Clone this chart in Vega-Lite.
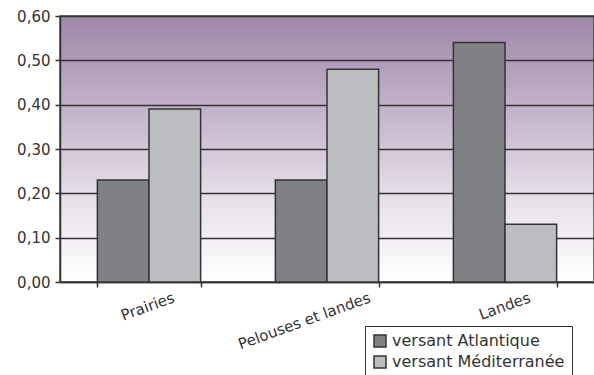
{
  "$schema": "https://vega.github.io/schema/vega-lite/v6.json",
  "width": 534,
  "height": 266,
  "autosize": "none",
  "padding": {"left": 60, "top": 16, "right": 0, "bottom": 93},
  "background": "white",
  "config": {
    "font": "DejaVu Sans",
    "view": {
      "stroke": "#444",
      "strokeWidth": 1.5,
      "fill": {"gradient": "linear", "x1": 0, "y1": 0, "x2": 0, "y2": 1, "stops": [{"offset": 0, "color": "#9F87A8"}, {"offset": 0.35, "color": "#C3B3CA"}, {"offset": 0.7, "color": "#E8E1EB"}, {"offset": 1, "color": "#FFFFFF"}]}
    }
  },
  "data": {
    "values": [
      {"type": "Prairies", "versant": "versant Atlantique", "value": 0.23},
      {"type": "Prairies", "versant": "versant Méditerranée", "value": 0.39},
      {"type": "Pelouses et landes", "versant": "versant Atlantique", "value": 0.23},
      {"type": "Pelouses et landes", "versant": "versant Méditerranée", "value": 0.48},
      {"type": "Landes", "versant": "versant Atlantique", "value": 0.54},
      {"type": "Landes", "versant": "versant Méditerranée", "value": 0.13}
    ]
  },
  "mark": {"type": "bar", "stroke": "#333", "strokeWidth": 1.5},
  "encoding": {
    "x": {
      "field": "type", "type": "nominal", "sort": null,
      "scale": {"paddingInner": 0.42, "paddingOuter": 0.21},
      "axis": {
        "title": null, "labelAngle": -20, "labelFontSize": 15, "labelColor": "#333",
        "labelAlign": "right", "labelBaseline": "top", "labelPadding": 3,
        "labelOffset": {"condition": {"test": "datum.value == 'Pelouses et landes'", "value": 40}, "value": 22},
        "tickBand": "extent", "tickColor": "#333", "tickSize": 5, "tickWidth": 1.5,
        "domainColor": "#333", "domainWidth": 1.5, "grid": false
      }
    },
    "xOffset": {"field": "versant", "type": "nominal"},
    "y": {
      "field": "value", "type": "quantitative",
      "scale": {"domain": [0, 0.6]},
      "axis": {
        "title": null, "values": [0, 0.1, 0.2, 0.3, 0.4, 0.5, 0.6],
        "labelExpr": "replace(format(datum.value, '.2f'), '.', ',')",
        "labelFontSize": 15, "labelColor": "#333", "labelPadding": 5,
        "tickColor": "#333", "tickSize": 5, "tickWidth": 1.5,
        "domainColor": "#333", "domainWidth": 1.5,
        "grid": true, "gridColor": "#333", "gridWidth": 1.5
      }
    },
    "color": {
      "field": "versant", "type": "nominal",
      "scale": {"range": ["#808184", "#BCBDC0"]},
      "legend": {
        "title": null, "orient": "none", "legendX": 305, "legendY": 310,
        "direction": "vertical",
        "symbolType": "square", "symbolSize": 144, "symbolStrokeColor": "#333", "symbolStrokeWidth": 1.5,
        "labelFontSize": 16, "labelColor": "#333", "rowPadding": 3, "labelLimit": 300,
        "strokeColor": "#333", "padding": 7, "fillColor": "white"
      }
    }
  }
}
